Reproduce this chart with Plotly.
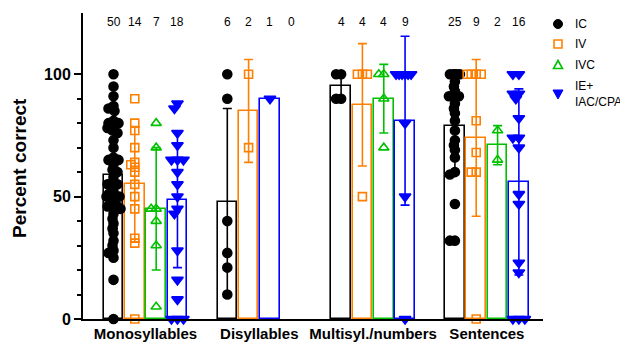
import plotly.graph_objects as go

# ---------------- data ----------------
groups = ["Monosyllables", "Disyllables", "Multisyl./numbers", "Sentences"]
series = ["IC", "IV", "IVC", "IE+<br>IAC/CPA"]
n_labels = [["50", "14", "7", "18"], ["6", "2", "1", "0"], ["4", "4", "4", "9"], ["25", "9", "2", "16"]]

ic_points = [
    [100, 95, 91, 87, 86, 85, 81, 80, 80, 79, 78, 77, 76, 73, 70, 66, 65, 65, 63, 61, 60, 58, 56, 55, 55,
     54, 52, 51, 50, 50, 50, 50, 50, 48, 46, 46, 46, 45, 43, 41, 39, 37, 35, 32, 30, 28, 27, 25, 16, 0],
    [100, 90, 40, 27, 21, 10],
    [100, 100, 90, 90],
    [100, 100, 100, 100, 100, 97, 95, 93, 91, 91, 91, 88, 86, 84, 81, 77, 73, 71, 69, 66, 60, 59, 47, 32, 32],
]
iv_points = [
    [90, 80, 77, 70, 64, 63, 62, 60, 55, 50, 45, 33, 31, 0],
    [100, 70],
    [100, 100, 100, 50],
    [100, 100, 100, 100, 81, 68, 60, 60, 0],
]
ivc_points = [
    [80, 70, 45, 45, 40, 30, 5],
    [90],
    [100, 100, 90, 70],
    [77, 65],
]
ie_points = [
    [88, 86, 76, 71, 65, 65, 65, 60, 55, 50, 45, 43, 28, 16, 8, 0, 0, 0],
    [],
    [100, 100, 100, 100, 100, 100, 80, 50, 0],
    [100, 100, 92, 92, 90, 82, 74, 74, 70, 51, 47, 23, 19, 0, 0, 0],
]

ic_mean = [59, 48, 95, 79]
ic_sd = [22, 38, 5.8, 20]
iv_mean = [55, 85, 87.5, 74]
iv_sd = [23.5, 21, 25, 32]
ivc_mean = [45, 90, 90, 71]
ivc_sd = [25, 0, 14, 8]
ie_mean = [48.5, None, 81, 56]
ie_sd = [27.5, None, 34.5, 38]

# ---------------- styling ----------------
BLACK = "#000000"
ORANGE = "#FF8000"
GREEN = "#00C000"
BLUE = "#0000FF"
FONT = "Liberation Sans"

colors = [BLACK, ORANGE, GREEN, BLUE]
symbols = ["circle", "square-open", "triangle-up-open", "triangle-down"]
msizes = [9, 8, 9, 10]
all_points = [ic_points, iv_points, ivc_points, ie_points]
all_means = [ic_mean, iv_mean, ivc_mean, ie_mean]
all_sds = [ic_sd, iv_sd, ivc_sd, ie_sd]
# the single Disyllables bar in the 3rd slot is drawn blue / down-triangle in the reference
override = {(2, 1): (BLUE, "triangle-down", 10)}

# the page body adds an 8px offset; build the figure in page coords minus that
OFF = 8
W, H = 628 - OFF, 348 - OFF
ML, MR, MT, MB = 83 - OFF, W - (543 - OFF), 13 - OFF, H - (319 - OFF)
PW, PH = W - ML - MR, H - MT - MB
XR = [-0.549, 3.493]
YR = [0, 125]
PX_X = PW / (XR[1] - XR[0])
PX_Y = PH / (YR[1] - YR[0])

bar_w = 0.171
offsets = [-0.281, -0.094, 0.094, 0.281]


def paper_x(px):  # px in reference-page coords
    return (px - OFF - ML) / PW


def paper_y(py):
    return (H - MB - (py - OFF)) / PH


def swarm(vals, diam, maxoff=8):
    """deterministic beeswarm offsets (in x data units)"""
    placed = []
    res = [0.0] * len(vals)
    order = sorted(range(len(vals)), key=lambda i: -vals[i])
    mind = 0.55 * diam
    for i in order:
        y = vals[i] * PX_Y
        best, bestd = 0.0, -1
        cands = [0.0]
        for k in range(1, maxoff + 1):
            cands += [-float(k), float(k)]
        for x in cands:
            d = min([((x - px) ** 2 + (y - py) ** 2) ** 0.5 for px, py in placed] or [1e9])
            if d >= mind:
                best = x
                break
            if d > bestd:
                best, bestd = x, d
        placed.append((best, y))
        res[i] = best / PX_X
    return res


fig = go.Figure()

# bars with SD error bars
for s in range(4):
    for g in range(4):
        m = all_means[s][g]
        if m is None:
            continue
        col = override.get((s, g), (colors[s],))[0]
        fig.add_trace(go.Bar(
            x=[g + offsets[s]], y=[m], width=bar_w,
            marker=dict(color="white", line=dict(color=col, width=1.6)),
            error_y=dict(type="data", array=[all_sds[s][g]], visible=all_sds[s][g] > 0,
                         color=col, thickness=1.6, width=4.5),
            showlegend=False, hoverinfo="skip",
        ))

# individual points
for s in range(4):
    for g in range(4):
        vals = all_points[s][g]
        if not vals:
            continue
        col, sym, sz = override.get((s, g), (colors[s], symbols[s], msizes[s]))
        offs = swarm(vals, sz, maxoff=7 if s == 0 else 9)
        fig.add_trace(go.Scatter(
            x=[g + offsets[s] + o for o in offs], y=vals, mode="markers",
            marker=dict(color=col, symbol=sym, size=sz, line=dict(color=col, width=1.6)),
            cliponaxis=False, showlegend=False, hoverinfo="skip",
        ))

# manual legend (outside the plot area): shapes in pixel size mode + annotations
leg_y = [24, 44, 65, 94]
sym_x = 558
common = dict(xref="paper", yref="paper", xsizemode="pixel", ysizemode="pixel",
              xanchor=paper_x(sym_x))
fig.add_shape(type="circle", x0=-4.5, x1=4.5, y0=-4.5, y1=4.5, yanchor=paper_y(leg_y[0]),
              fillcolor=BLACK, line=dict(color=BLACK, width=1), **common)
fig.add_shape(type="rect", x0=-4, x1=4, y0=-4, y1=4, yanchor=paper_y(leg_y[1]),
              fillcolor="rgba(0,0,0,0)", line=dict(color=ORANGE, width=1.6), **common)
fig.add_shape(type="path", path="M-4.5,-3.5 L4.5,-3.5 L0,4.5 Z", yanchor=paper_y(leg_y[2]),
              fillcolor="rgba(0,0,0,0)", line=dict(color=GREEN, width=1.6), **common)
fig.add_shape(type="path", path="M-5,4 L5,4 L0,-5 Z", yanchor=paper_y(leg_y[3]),
              fillcolor=BLUE, line=dict(color=BLUE, width=1), **common)
for s in range(4):
    fig.add_annotation(xref="paper", yref="paper", x=paper_x(575), y=paper_y(leg_y[s]),
                       text=series[s], showarrow=False, xanchor="left", yanchor="middle",
                       align="left", borderpad=0, borderwidth=0,
                       font=dict(family=FONT, size=12, color="black"))

# n labels above
for g in range(4):
    for s in range(4):
        fig.add_annotation(x=g + offsets[s], yref="paper", y=paper_y(22), text=n_labels[g][s],
                           showarrow=False, font=dict(family=FONT, size=12, color="black"),
                           xanchor="center", yanchor="middle")

fig.add_annotation(xref="paper", yref="paper", x=paper_x(19), y=paper_y(168),
                   text="Percent correct", textangle=-90, showarrow=False,
                   borderpad=0, borderwidth=0,
                   font=dict(family=FONT, size=19, color="black", weight="bold"),
                   xanchor="center", yanchor="middle")

fig.update_layout(
    width=W, height=H, margin=dict(l=ML, r=MR, t=MT, b=MB, pad=0, autoexpand=False),
    paper_bgcolor="white", plot_bgcolor="white",
    barmode="overlay", bargap=0,
    font=dict(family=FONT, color="black"),
    showlegend=False,
    xaxis=dict(range=XR, tickvals=[0, 1, 2, 3], ticktext=groups, showgrid=False, zeroline=False,
               showline=True, linecolor="black", linewidth=2, ticks="", automargin=False,
               tickfont=dict(family=FONT, size=15, color="black", weight="bold")),
    yaxis=dict(range=YR, tickvals=[0, 50, 100], showgrid=False, zeroline=False, automargin=False,
               showline=True, linecolor="black", linewidth=2,
               ticks="outside", ticklen=7, tickwidth=2, tickcolor="black",
               minor=dict(tickvals=[10, 20, 30, 40, 60, 70, 80, 90], ticks="outside", ticklen=4,
                          tickwidth=1.5, tickcolor="black", showgrid=False),
               tickfont=dict(family=FONT, size=16, color="black", weight="bold")),
)

fig.write_html("out.html")
